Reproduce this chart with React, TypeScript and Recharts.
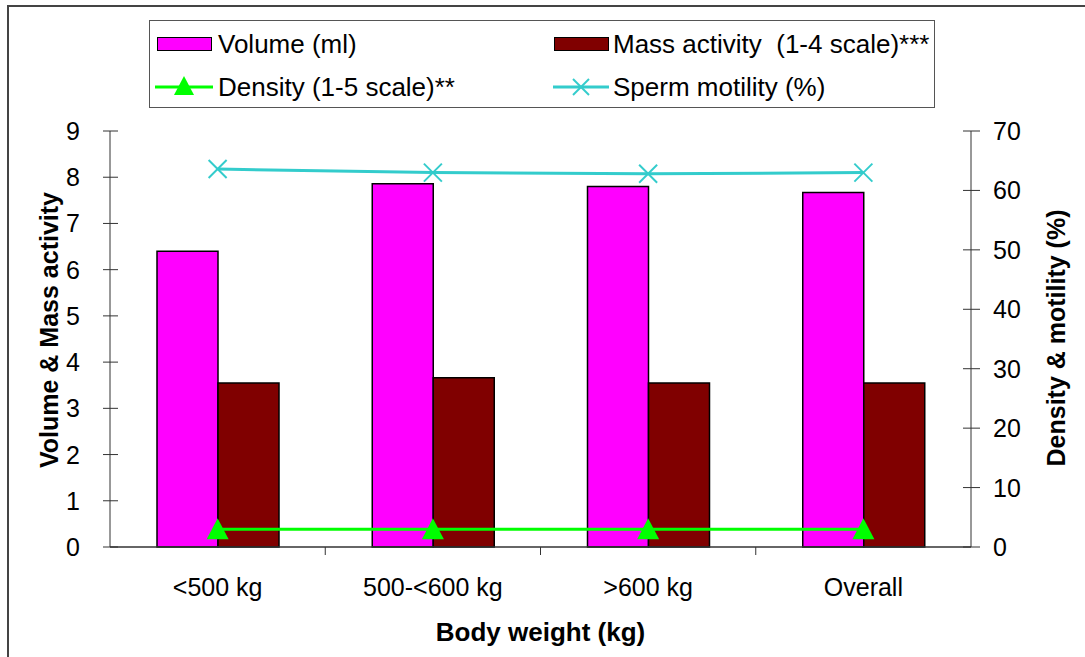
import React from 'react';
import { ComposedChart, Bar, Line, XAxis, YAxis, Label } from 'recharts';

const categories = ['<500 kg', '500-<600 kg', '>600 kg', 'Overall'];
const volume = [6.4, 7.86, 7.8, 7.67];
const massActivity = [3.55, 3.66, 3.55, 3.55];
const density = [3.0, 3.0, 3.0, 3.0];
const motility = [63.6, 63.0, 62.8, 63.0];
const leftTicks = [0, 1, 2, 3, 4, 5, 6, 7, 8, 9];
const rightTicks = [0, 10, 20, 30, 40, 50, 60, 70];

const data = categories.map((name, i) => ({
    name,
    volume: volume[i],
    mass: massActivity[i],
    density: density[i],
    motility: motility[i],
}));

const FONT = '"Liberation Sans", Arial, sans-serif';
const AXIS = '#333';

// ticks in the original cross the axis line, so draw them ourselves
const LeftTick = ({ x, y, payload }: any) => (
    <g>
        <line x1={x - 7} x2={x + 8} y1={y} y2={y} stroke={AXIS} strokeWidth={1} />
        <text x={x - 30} y={y} textAnchor="end" dominantBaseline="central" fontSize={25} fontFamily={FONT} fill="#000">
            {payload.value}
        </text>
    </g>
);

const RightTick = ({ x, y, payload }: any) => (
    <g>
        <line x1={x - 8} x2={x + 9} y1={y} y2={y} stroke={AXIS} strokeWidth={1} />
        <text x={x + 22} y={y} textAnchor="start" dominantBaseline="central" fontSize={25} fontFamily={FONT} fill="#000">
            {payload.value}
        </text>
    </g>
);

const CategoryTick = ({ x, y, payload, index }: any) => {
    const half = payload.offset ?? 107;
    return (
        <g>
            {index > 0 && <line x1={x - half} x2={x - half} y1={y} y2={y + 8} stroke={AXIS} strokeWidth={1} />}
            <text x={x} y={y + 40} textAnchor="middle" dominantBaseline="central" fontSize={25} fontFamily={FONT} fill="#000">
                {payload.value}
            </text>
        </g>
    );
};

const Triangle = ({ cx, cy }: any) => (
    <polygon points={`${cx},${cy - 11} ${cx - 11},${cy + 10} ${cx + 11},${cy + 10}`} fill="#00FF00" />
);

const Cross = ({ cx, cy }: any) => (
    <g stroke="#33CCCC" strokeWidth={2}>
        <line x1={cx - 9} y1={cy - 9} x2={cx + 9} y2={cy + 9} />
        <line x1={cx - 9} y1={cy + 9} x2={cx + 9} y2={cy - 9} />
    </g>
);

const legendText: React.CSSProperties = {
    position: 'absolute',
    fontFamily: FONT,
    fontSize: 26,
    lineHeight: '30px',
    whiteSpace: 'pre',
    color: '#000',
};

const ChartLegend = () => (
    <div style={{ position: 'absolute', left: 149, top: 20, width: 786, height: 88, border: '1px solid #555', boxSizing: 'border-box', background: '#fff' }}>
        <div style={{ position: 'absolute', left: 7, top: 16, width: 53, height: 12, background: '#FF00FF', border: '1.5px solid #000' }} />
        <div style={{ ...legendText, left: 68, top: 8 }}>Volume (ml)</div>
        <div style={{ position: 'absolute', left: 404, top: 16, width: 53, height: 12, background: '#800000', border: '1.5px solid #000' }} />
        <div style={{ ...legendText, left: 463, top: 8 }}>Mass activity  (1-4 scale)***</div>
        <svg style={{ position: 'absolute', left: 5, top: 52 }} width={60} height={30}>
            <line x1={0} x2={58} y1={14} y2={14} stroke="#00FF00" strokeWidth={3} />
            <polygon points="29,3 19,22 39,22" fill="#00FF00" />
        </svg>
        <div style={{ ...legendText, left: 68, top: 51 }}>Density (1-5 scale)**</div>
        <svg style={{ position: 'absolute', left: 403, top: 52 }} width={60} height={30}>
            <line x1={0} x2={56} y1={14} y2={14} stroke="#33CCCC" strokeWidth={3} />
            <line x1={20} x2={36} y1={6} y2={22} stroke="#33CCCC" strokeWidth={2} />
            <line x1={20} x2={36} y1={22} y2={6} stroke="#33CCCC" strokeWidth={2} />
        </svg>
        <div style={{ ...legendText, left: 463, top: 51 }}>Sperm motility (%)</div>
    </div>
);

const App: React.FC = () => {
    return (
        <div style={{ position: 'absolute', left: 0, top: 0, width: 1085, height: 657, background: '#fff', overflow: 'hidden' }}>
            <div style={{ position: 'absolute', left: 7, top: 5, width: 1100, height: 700, borderTop: '2px solid #444', borderLeft: '2px solid #444' }} />
            <ComposedChart
                width={1085}
                height={657}
                data={data}
                margin={{ top: 131, right: 0, bottom: 0, left: 0 }}
                barGap={0}
                style={{ position: 'absolute', left: 0, top: 0 }}
            >
                <XAxis
                    dataKey="name"
                    height={110}
                    axisLine={{ stroke: AXIS, strokeWidth: 1.5 }}
                    tickLine={false}
                    tickSize={0}
                    tickMargin={0}
                    tick={<CategoryTick />}
                    interval={0}
                >
                    <Label
                        content={({ viewBox }: any) => (
                            <text x={viewBox.x + viewBox.width / 2} y={viewBox.y + 85} textAnchor="middle" dominantBaseline="central" fontSize={26} fontWeight="bold" fontFamily={FONT}>
                                Body weight (kg)
                            </text>
                        )}
                    />
                </XAxis>
                <YAxis
                    yAxisId="left"
                    width={110}
                    domain={[0, 9]}
                    ticks={leftTicks}
                    interval={0}
                    axisLine={{ stroke: AXIS, strokeWidth: 1 }}
                    tickLine={false}
                    tickSize={0}
                    tickMargin={0}
                    tick={<LeftTick />}
                >
                    <Label
                        content={({ viewBox }: any) => {
                            const cx = 49;
                            const cy = viewBox.y + viewBox.height / 2 - 9;
                            return (
                                <text x={cx} y={cy} transform={`rotate(-90 ${cx} ${cy})`} textAnchor="middle" dominantBaseline="central" fontSize={25} fontWeight="bold" fontFamily={FONT}>
                                    Volume &amp; Mass activity
                                </text>
                            );
                        }}
                    />
                </YAxis>
                <YAxis
                    yAxisId="right"
                    orientation="right"
                    width={114}
                    domain={[0, 70]}
                    ticks={rightTicks}
                    interval={0}
                    axisLine={{ stroke: AXIS, strokeWidth: 1 }}
                    tickLine={false}
                    tickSize={0}
                    tickMargin={0}
                    tick={<RightTick />}
                >
                    <Label
                        content={({ viewBox }: any) => {
                            const cx = 1056;
                            const cy = viewBox.y + viewBox.height / 2 - 1;
                            return (
                                <text x={cx} y={cy} transform={`rotate(-90 ${cx} ${cy})`} textAnchor="middle" dominantBaseline="central" fontSize={25} fontWeight="bold" fontFamily={FONT}>
                                    Density &amp; motility (%)
                                </text>
                            );
                        }}
                    />
                </YAxis>
                <Bar yAxisId="left" dataKey="volume" name="Volume (ml)" fill="#FF00FF" stroke="#000" strokeWidth={1.5} barSize={61} isAnimationActive={false} />
                <Bar yAxisId="left" dataKey="mass" name="Mass activity  (1-4 scale)***" fill="#800000" stroke="#000" strokeWidth={1.5} barSize={61} isAnimationActive={false} />
                <Line yAxisId="right" dataKey="density" name="Density (1-5 scale)**" stroke="#00FF00" strokeWidth={3} dot={<Triangle />} activeDot={false} isAnimationActive={false} />
                <Line yAxisId="right" dataKey="motility" name="Sperm motility (%)" stroke="#33CCCC" strokeWidth={3} dot={<Cross />} activeDot={false} isAnimationActive={false} />
            </ComposedChart>
            <ChartLegend />
        </div>
    );
};

export default App;
